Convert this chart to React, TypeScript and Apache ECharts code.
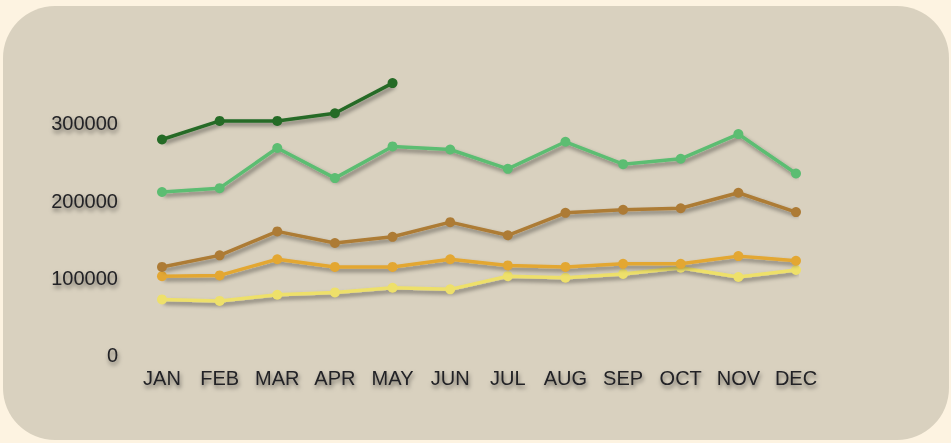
import React, { useEffect, useRef } from "react";
import * as echarts from "echarts";

const months = ["JAN", "FEB", "MAR", "APR", "MAY", "JUN", "JUL", "AUG", "SEP", "OCT", "NOV", "DEC"];

const darkGreen = [279000, 303000, 303000, 313000, 352000];
const lightGreen = [211000, 216000, 268000, 229000, 270000, 266000, 241000, 276000, 247000, 254000, 286000, 235000];
const brown = [114000, 129000, 160000, 145000, 153000, 172000, 155000, 184000, 188000, 190000, 210000, 185000];
const amber = [102000, 103000, 124000, 114000, 114000, 124000, 116000, 114000, 118000, 118000, 128000, 122000];
const yellow = [72000, 70000, 78000, 81000, 87000, 85000, 102000, 100000, 105000, 113000, 101000, 110000];

const yTicks = [0, 100000, 200000, 300000];

const textShadow = {
  textShadowColor: "rgba(0,0,0,0.5)",
  textShadowBlur: 4,
  textShadowOffsetX: 1,
  textShadowOffsetY: 3,
};

function lineSeries(name: string, data: number[], color: string, z: number) {
  return {
    name,
    type: "line",
    data,
    z,
    symbol: "circle",
    symbolSize: 10,
    itemStyle: { color },
    lineStyle: {
      color,
      width: 3.5,
      shadowColor: "rgba(0,0,0,0.45)",
      shadowBlur: 4,
      shadowOffsetX: 2,
      shadowOffsetY: 3,
    },
  };
}

export default function App() {
  const ref = useRef<HTMLDivElement>(null);

  useEffect(() => {
    if (!ref.current) return;
    const chart = echarts.init(ref.current, null, { renderer: "svg" });
    chart.setOption({
      animation: false,
      backgroundColor: "#fdf3e1",
      graphic: [
        {
          type: "rect",
          z: -10,
          silent: true,
          shape: { x: 3, y: 6, width: 946, height: 434, r: 52 },
          style: { fill: "#d9d1bf" },
        },
      ],
      grid: { left: 162, right: 155, top: 46, bottom: 88 },
      xAxis: {
        type: "category",
        data: months,
        boundaryGap: false,
        axisLine: { show: false },
        axisTick: { show: false },
        splitLine: { show: false },
        axisLabel: {
          interval: 0,
          margin: 13,
          fontSize: 20,
          fontFamily: "Liberation Sans",
          color: "#232326",
          ...textShadow,
        },
      },
      yAxis: {
        type: "value",
        min: 0,
        max: 400000,
        interval: 100000,
        axisLine: { show: false },
        axisTick: { show: false },
        splitLine: { show: false },
        axisLabel: {
          margin: 44,
          fontSize: 20,
          fontFamily: "Liberation Sans",
          color: "#232326",
          formatter: (v: number) => (yTicks.includes(v) ? String(v) : ""),
          ...textShadow,
        },
      },
      series: [
        lineSeries("yellow", yellow, "#eee06a", 2),
        lineSeries("amber", amber, "#e3a732", 3),
        lineSeries("brown", brown, "#ad7b35", 4),
        lineSeries("lightGreen", lightGreen, "#5cbd72", 5),
        lineSeries("darkGreen", darkGreen, "#256b26", 6),
      ],
    });
    return () => chart.dispose();
  }, []);

  return (
    <div style={{ position: "fixed", left: 0, top: 0, width: 951, height: 443 }}>
      <div ref={ref} style={{ width: 951, height: 443 }} />
    </div>
  );
}
